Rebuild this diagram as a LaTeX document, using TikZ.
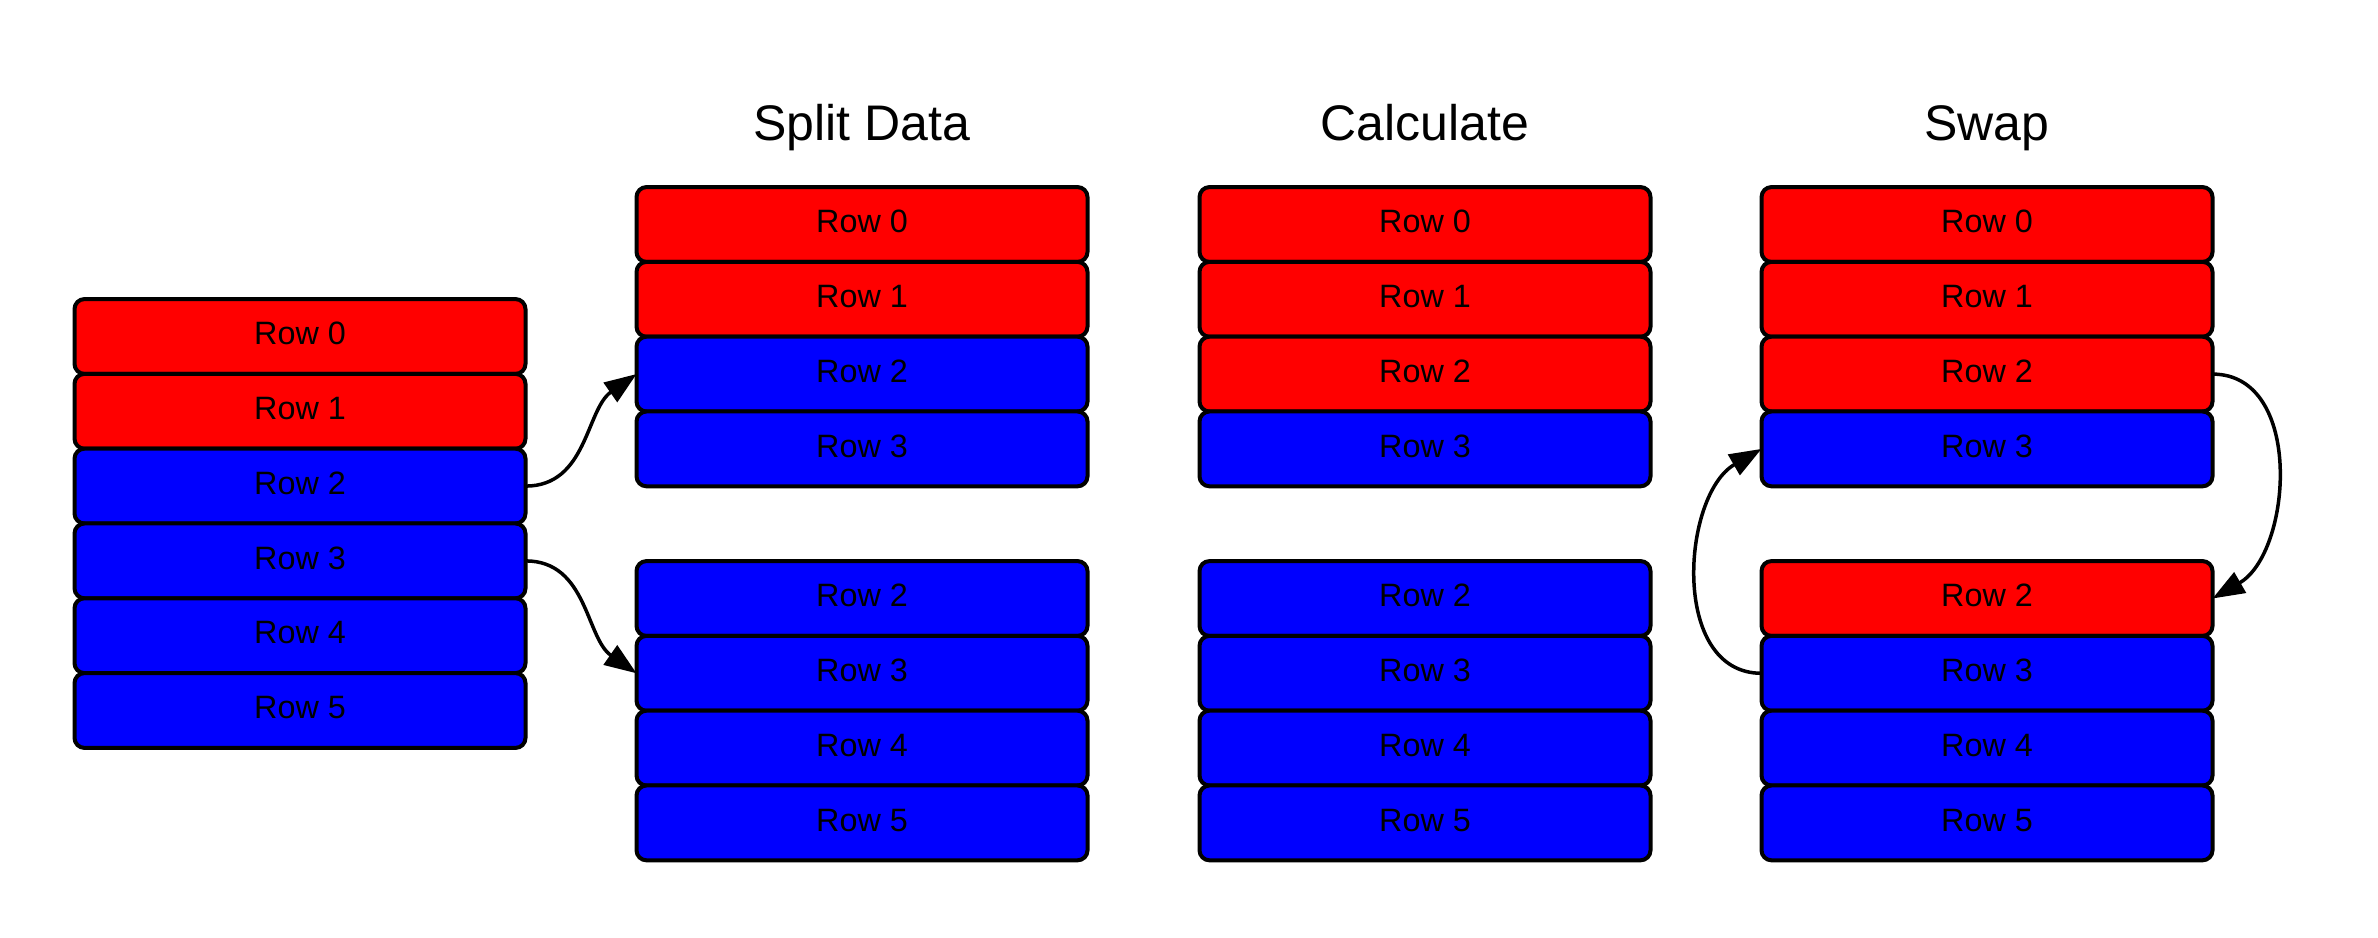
\documentclass[tikz,border=0pt]{standalone}
\usepackage{fontspec}
\setmainfont{Liberation Sans}
\usetikzlibrary{arrows.meta}
\definecolor{rowred}{RGB}{255,0,0}
\definecolor{rowblue}{RGB}{0,0,255}
\tikzset{
  rowbox/.style={draw=black, line width=1.2pt, rounded corners=3pt,
    minimum width=135.3pt, minimum height=22.45pt, inner sep=0pt, outer sep=0pt,
    text depth=1.8pt,
    font=\fontsize{9.7pt}{11pt}\selectfont, text=black},
  redrow/.style={rowbox, fill=rowred},
  bluerow/.style={rowbox, fill=rowblue},
  title/.style={font=\fontsize{15pt}{18pt}\selectfont, anchor=base, inner sep=0pt},
  conn/.style={line width=1.05pt, -{Triangle[length=9.6pt, width=7pt]}}
}
\begin{document}
\begin{tikzpicture}[x=0.3pt, y=-0.3pt]
\useasboundingbox (0,0) rectangle (2378,938);
% titles
\node[title] (t1) at (862,141) {Split Data};
\node[title] (t2) at (1425,141) {Calculate};
\node[title] (t3) at (1987,141) {Swap};
% left column
\node[redrow]  (a0) at (300,336.5) {Row 0};
\node[redrow]  (a1) at (300,411.3) {Row 1};
\node[bluerow] (a2) at (300,486.1) {Row 2};
\node[bluerow] (a3) at (300,560.9) {Row 3};
\node[bluerow] (a4) at (300,635.7) {Row 4};
\node[bluerow] (a5) at (300,710.5) {Row 5};
% split data
\node[redrow]  (b0) at (862,224.5) {Row 0};
\node[redrow]  (b1) at (862,299.3) {Row 1};
\node[bluerow] (b2) at (862,374.1) {Row 2};
\node[bluerow] (b3) at (862,448.9) {Row 3};
\node[bluerow] (c2) at (862,598.5) {Row 2};
\node[bluerow] (c3) at (862,673.3) {Row 3};
\node[bluerow] (c4) at (862,748.1) {Row 4};
\node[bluerow] (c5) at (862,822.9) {Row 5};
% calculate
\node[redrow]  (d0) at (1425,224.5) {Row 0};
\node[redrow]  (d1) at (1425,299.3) {Row 1};
\node[redrow]  (d2) at (1425,374.1) {Row 2};
\node[bluerow] (d3) at (1425,448.9) {Row 3};
\node[bluerow] (e2) at (1425,598.5) {Row 2};
\node[bluerow] (e3) at (1425,673.3) {Row 3};
\node[bluerow] (e4) at (1425,748.1) {Row 4};
\node[bluerow] (e5) at (1425,822.9) {Row 5};
% swap
\node[redrow]  (f0) at (1987,224.5) {Row 0};
\node[redrow]  (f1) at (1987,299.3) {Row 1};
\node[redrow]  (f2) at (1987,374.1) {Row 2};
\node[bluerow] (f3) at (1987,448.9) {Row 3};
\node[redrow]  (g2) at (1987,598.5) {Row 2};
\node[bluerow] (g3) at (1987,673.3) {Row 3};
\node[bluerow] (g4) at (1987,748.1) {Row 4};
\node[bluerow] (g5) at (1987,822.9) {Row 5};
% connectors
\draw[conn] (a2.east) to[out=0, in=215] (b2.west);
\draw[conn] (a3.east) to[out=0, in=145] (c3.west);
\draw[conn] (f2.east) to[out=0, in=30, looseness=1.05] (g2.east);
\draw[conn] (g3.west) to[out=180, in=210, looseness=1.05] (f3.west);
\end{tikzpicture}
\end{document}
